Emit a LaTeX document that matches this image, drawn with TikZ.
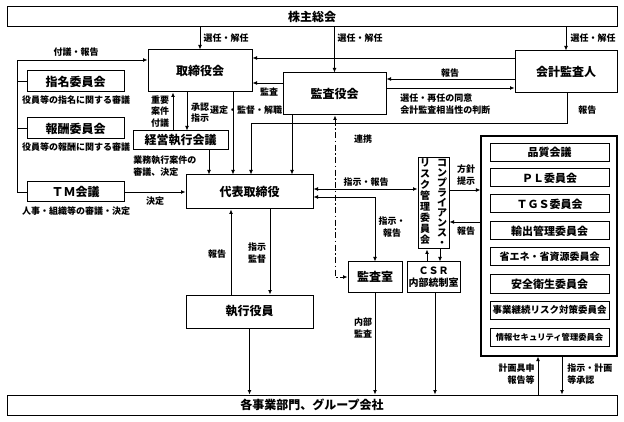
\documentclass[tikz,border=0pt]{standalone}
\usepackage{fontspec}
\setmainfont{Noto Sans CJK JP}
\usetikzlibrary{arrows.meta}
\begin{document}
\begin{tikzpicture}[x=1pt,y=-1pt,line width=0.9pt,
  box/.style={draw,line width=1pt,inner sep=0pt,font=\fontsize{12}{14}\selectfont\bfseries},
  cbox/.style={draw,line width=1pt,inner sep=0pt,minimum width=119pt,minimum height=18pt,font=\fontsize{11}{13}\selectfont\bfseries},
  lbl/.style={inner sep=0pt,font=\fontsize{9}{12}\selectfont\bfseries,align=center},
  arr/.style={-{Latex[length=4.5pt,width=4pt]}},
  darr/.style={{Latex[length=4.5pt,width=4pt]}-{Latex[length=4.5pt,width=4pt]}},
  dashdot/.style={dash pattern=on 6pt off 2.5pt on 1.5pt off 2.5pt}]
\lineskiplimit=-100pt\relax
\useasboundingbox (0,0) rectangle (624,422);

% helper coordinates
\foreach \v in {58,60,79,83,88,123,189,190,197,222}{\coordinate (y\v) at (0,\v);}
\foreach \v in {17,173,187,209,233,251,270,231,292,335,375,427,440,435,538,562,567}{\coordinate (x\v) at (\v,0);}

% boxes
\node[box,minimum width=610pt,minimum height=20pt] (sokai) at (312,17) {株主総会};
\node[box,minimum width=104pt,minimum height=42pt] (tori) at (200,71) {取締役会};
\node[box,minimum width=103pt,minimum height=42pt] (kansa) at (334.5,94) {監査役会};
\node[box,minimum width=102pt,minimum height=42pt] (kaikei) at (566,72) {会計監査人};
\node[box,minimum width=97pt,minimum height=21pt] (shimei) at (75.5,81.5) {指名委員会};
\node[box,minimum width=97pt,minimum height=21pt] (hoshu) at (75.5,128.5) {報酬委員会};
\node[box,minimum width=97pt,minimum height=20pt] (tm) at (75.5,192) {ＴＭ会議};
\node[box,minimum width=95pt,minimum height=19pt] (keiei) at (180.5,140.5) {経営執行会議};
\node[box,minimum width=127pt,minimum height=34pt] (daihyo) at (249.5,192) {代表取締役};
\node[box,minimum width=127pt,minimum height=33pt] (shikko) at (249.5,311.5) {執行役員};
\node[box,minimum width=54pt,minimum height=30pt] (kansashitsu) at (375,277) {監査室};
\node[box,minimum width=53pt,minimum height=30pt,align=center,font=\fontsize{10}{12}\selectfont\bfseries] (csr) at (433.5,277) {ＣＳＲ\\内部統制室};
\node[box,minimum width=31pt,minimum height=91pt] (comp) at (433.5,203.5) {};
\node[inner sep=0pt,align=center,font=\fontsize{10}{10}\selectfont\bfseries] at (442,203) {コ\\ン\\プ\\ラ\\イ\\ア\\ン\\ス\\・};
\node[inner sep=0pt,align=center,font=\fontsize{10}{11}\selectfont\bfseries] at (425,201.5) {リ\\ス\\ク\\管\\理\\委\\員\\会};
\node[box,line width=1.2pt,minimum width=136pt,minimum height=220pt] (frame) at (549,246) {};
\node[cbox] (c1) at (549.5,152.5) {品質会議};
\node[cbox] (c2) at (549.5,178) {ＰＬ委員会};
\node[cbox] (c3) at (549.5,204) {ＴＧＳ委員会};
\node[cbox] (c4) at (549.5,231) {輸出管理委員会};
\node[cbox,font=\fontsize{10}{12}\selectfont\bfseries] (c5) at (549.5,257) {省エネ・省資源委員会};
\node[cbox] (c6) at (549.5,284) {安全衛生委員会};
\node[cbox,font=\fontsize{9.5}{12}\selectfont\bfseries] (c7) at (549.5,310) {事業継続リスク対策委員会};
\node[cbox,font=\fontsize{8.3}{12}\selectfont\bfseries] (c8) at (549.5,337) {情報セキュリティ管理委員会};
\node[box,minimum width=610pt,minimum height=20pt] (bottom) at (312,405) {各事業部門、グループ会社};

% connectors
\draw[arr] (tori.north |- sokai.south) -- (tori.north);
\draw[arr] (kansa.north |- sokai.south) -- (kansa.north);
\draw[arr] (kaikei.north |- sokai.south) -- (kaikei.north);
\draw[arr] (kaikei.west |- y58) -- (tori.east |- y58);
\draw[arr] (kaikei.west |- y79) -- (kansa.east |- y79);
\draw[arr] (kansa.east |- y88) -- (kaikei.west |- y88);
\draw[arr] (kansa.west |- y83) -- (tori.east |- y83);
\draw[arr] (x567 |- kaikei.south) -- (x567 |- y123) -- (x251 |- y123) -- (x251 |- daihyo.north);
\draw[arr] (x292 |- kansa.south) -- (x292 |- daihyo.north);
\draw[arr] (x233 |- tori.south) -- (x233 |- daihyo.north);
\draw[arr] (x209 |- keiei.south) -- (x209 |- daihyo.north);
\draw[arr] (x173 |- keiei.north) -- (x173 |- tori.south);
\draw[arr] (x187 |- tori.south) -- (x187 |- keiei.north);
\draw[arr] (tm.west) -- (x17 |- tm.west) -- (x17 |- y60) -- (tori.west |- y60);
\draw (x17 |- shimei.west) -- (shimei.west);
\draw (x17 |- hoshu.west) -- (hoshu.west);
\draw[arr] (tm.east) -- (daihyo.west);
\draw[darr] (daihyo.east |- y189) -- (comp.west |- y189);
\draw[darr] (daihyo.east |- y197) -- (x375 |- y197) -- (kansashitsu.north);
\draw[darr,dashdot] (x335 |- kansa.south) -- (x335 |- kansashitsu.west) -- (kansashitsu.west);
\draw[arr] (x427 |- csr.north) -- (x427 |- comp.south);
\draw[arr] (x440 |- comp.south) -- (x440 |- csr.north);
\draw[arr] (comp.east |- y190) -- (frame.west |- y190);
\draw[arr] (frame.west |- y222) -- (comp.east |- y222);
\draw[arr] (x270 |- daihyo.south) -- (x270 |- shikko.north);
\draw[arr] (x231 |- shikko.north) -- (x231 |- daihyo.south);
\draw[arr] (shikko.south) -- (shikko.south |- bottom.north);
\draw[arr] (kansashitsu.south) -- (kansashitsu.south |- bottom.north);
\draw[arr] (x435 |- csr.south) -- (x435 |- bottom.north);
\draw[arr] (x538 |- bottom.north) -- (x538 |- frame.south);
\draw[arr] (x562 |- frame.south) -- (x562 |- bottom.north);

% labels
\node[lbl] at (76,52) {付議・報告};
\node[lbl] at (226,38) {選任・解任};
\node[lbl] at (360,38) {選任・解任};
\node[lbl] at (593,38) {選任・解任};
\node[lbl] at (450,73) {報告};
\node[lbl,anchor=west,align=left] at (400,104) {選任・再任の同意\\会計監査相当性の判断};
\node[lbl,anchor=west] at (578,110) {報告};
\node[lbl] at (269,92) {監査};
\node[lbl] at (246,110) {選定・監督・解職};
\node[lbl,font=\fontsize{9}{11.5}\selectfont\bfseries] at (160,111.5) {重要\\案件\\付議};
\node[lbl,font=\fontsize{9}{11}\selectfont\bfseries] at (200,113) {承認\\指示};
\node[lbl,anchor=west,align=left] at (133,166) {業務執行案件の\\審議、決定};
\node[lbl] at (155,201) {決定};
\node[lbl] at (76,100) {役員等の指名に関する審議};
\node[lbl] at (76,147) {役員等の報酬に関する審議};
\node[lbl] at (76,211) {人事・組織等の審議・決定};
\node[lbl] at (363,139) {連携};
\node[lbl] at (366,182) {指示・報告};
\node[lbl] at (392,227) {指示・\\報告};
\node[lbl] at (466,175.5) {方針\\提示};
\node[lbl] at (466,231) {報告};
\node[lbl] at (217,254) {報告};
\node[lbl] at (257,253) {指示\\監督};
\node[lbl] at (363,328.5) {内部\\監査};
\node[lbl,anchor=east,align=right] at (535,374) {計画具申\\報告等};
\node[lbl,anchor=west,align=left] at (567,374) {指示・計画\\等承認};
\end{tikzpicture}
\end{document}
